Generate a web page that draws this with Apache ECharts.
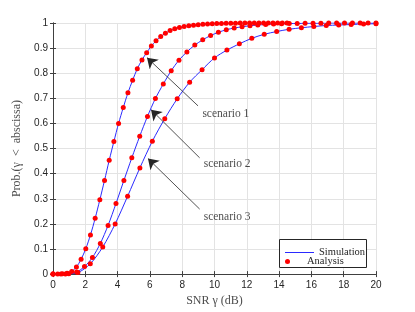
<!DOCTYPE html>
<html>
<head>
<meta charset="utf-8">
<script src="https://cdn.jsdelivr.net/npm/echarts@6/dist/echarts.min.js"></script>
<style>
html,body{margin:0;padding:0;background:#fff;}
#chart{width:415px;height:312px;}
</style>
</head>
<body>
<div id="chart"></div>
<script>
// ---------- data ----------
const xTicks = [0, 2, 4, 6, 8, 10, 12, 14, 16, 18, 20];
const yTicks = [0, 0.1, 0.2, 0.3, 0.4, 0.5, 0.6, 0.7, 0.8, 0.9, 1];

const sc1X = [0, 0.29, 0.58, 0.87, 1.16, 1.45, 1.74, 2.03, 2.32, 2.61, 2.90, 3.19, 3.48, 3.77, 4.06, 4.35, 4.64, 4.93, 5.22, 5.51, 5.80, 6.09, 6.38, 6.67, 6.96, 7.25, 7.54, 7.83, 8.12, 8.41, 8.70, 8.99, 9.28, 9.57, 9.86, 10.14, 10.43, 10.72, 11.01, 11.30, 11.59, 11.88, 12.17, 12.46, 12.75, 13.04, 13.33, 13.62, 13.91, 14.20, 14.49];
const sc1Y = [0, 0, 0.001, 0.003, 0.010, 0.028, 0.059, 0.101, 0.156, 0.222, 0.296, 0.373, 0.453, 0.528, 0.600, 0.663, 0.722, 0.772, 0.818, 0.853, 0.882, 0.908, 0.929, 0.946, 0.959, 0.970, 0.977, 0.982, 0.986, 0.989, 0.991, 0.993, 0.995, 0.996, 0.997, 0.998, 0.998, 0.999, 0.999, 0.999, 1, 1, 1, 1, 1, 1, 1, 1, 1, 1, 1];

const sc2X = [0, 0.49, 0.98, 1.46, 1.95, 2.44, 2.93, 3.41, 3.90, 4.39, 4.88, 5.37, 5.85, 6.34, 6.83, 7.32, 7.80, 8.29, 8.78, 9.27, 9.76, 10.24, 10.73, 11.22, 11.71, 12.20, 12.68, 13.17, 13.66, 14.15, 14.63, 15.12, 15.61, 16.10, 16.59, 17.07, 17.56, 18.05, 18.54, 19.02, 19.51, 20];
const sc2Y = [0, 0, 0.001, 0.008, 0.030, 0.066, 0.122, 0.194, 0.281, 0.373, 0.463, 0.549, 0.628, 0.699, 0.757, 0.810, 0.852, 0.885, 0.912, 0.933, 0.950, 0.963, 0.973, 0.980, 0.985, 0.989, 0.992, 0.994, 0.996, 0.997, 0.998, 0.998, 0.999, 0.999, 0.999, 1, 1, 1, 1, 1, 1, 1];

const sc3X = [0, 0.77, 1.54, 2.31, 3.08, 3.85, 4.62, 5.38, 6.15, 6.92, 7.69, 8.46, 9.23, 10.00, 10.77, 11.54, 12.31, 13.08, 13.85, 14.62, 15.38, 16.15, 16.92, 17.69, 18.46, 19.23, 20];
const sc3Y = [0, 0, 0.006, 0.041, 0.108, 0.200, 0.310, 0.423, 0.529, 0.619, 0.698, 0.764, 0.814, 0.861, 0.892, 0.917, 0.939, 0.955, 0.966, 0.975, 0.981, 0.986, 0.990, 0.992, 0.994, 0.996, 0.997];

const annText = ['scenario 1', 'scenario 2', 'scenario 3'];
const annTextPos = [[9.25, 0.636], [9.33, 0.439], [9.33, 0.227]];
const annArrowFrom = [[8.98, 0.670], [9.08, 0.463], [9.08, 0.259]];
const annArrowTo = [[5.82, 0.862], [6.07, 0.655], [5.88, 0.460]];
// ---------------------------------------------------

const zip = (xs, ys) => xs.map((x, i) => [x, ys[i]]);
const serif = 'Liberation Serif';
const sans = 'Liberation Sans';
const axisCol = '#404040';

const lineSeries = (xs, ys) => ({
  type: 'line', name: 'Simulation', xAxisIndex: 0, yAxisIndex: 0,
  data: zip(xs, ys), symbol: 'none', smooth: 0.3,
  lineStyle: {color: '#2a2aff', width: 1}, itemStyle: {color: '#2a2aff'},
  z: 3
});
const dotSeries = (xs, ys) => ({
  type: 'scatter', name: 'Analysis', xAxisIndex: 0, yAxisIndex: 0,
  data: zip(xs, ys), symbol: 'circle', symbolSize: 5,
  itemStyle: {color: '#ff0000', opacity: 1}, z: 4
});

const baseX = {type: 'value', min: 0, max: 20, interval: 2};
const baseY = {type: 'value', min: 0, max: 1, interval: 0.1};

const chart = echarts.init(document.getElementById('chart'), null, {renderer: 'canvas'});
chart.setOption({
  animation: false,
  backgroundColor: '#fff',
  grid: {left: 53, right: 39, top: 23, bottom: 34, containLabel: false},
  xAxis: [
    Object.assign({}, baseX, {
      position: 'bottom',
      name: 'SNR γ (dB)', nameLocation: 'middle', nameGap: 15,
      nameTextStyle: {fontFamily: serif, fontSize: 12, color: '#4d4d4d'},
      axisLine: {show: true, lineStyle: {color: axisCol, width: 1}},
      axisTick: {show: true, inside: true, length: 3, lineStyle: {color: axisCol}},
      axisLabel: {fontFamily: sans, fontSize: 10, color: '#262626', margin: 6,
        formatter: v => xTicks.includes(v) ? String(v) : ''},
      splitLine: {show: true, lineStyle: {color: '#e3e3e3', width: 1}}
    }),
    Object.assign({}, baseX, {
      position: 'top',
      axisLine: {show: true, lineStyle: {color: axisCol, width: 1}},
      axisTick: {show: true, inside: true, length: 3, lineStyle: {color: axisCol}},
      axisLabel: {show: false},
      splitLine: {show: false}
    })
  ],
  yAxis: [
    Object.assign({}, baseY, {
      position: 'left',
      name: 'Prob.(γ  <  abscissa)', nameLocation: 'middle', nameGap: 19,
      nameTextStyle: {fontFamily: serif, fontSize: 12, color: '#4d4d4d'},
      axisLine: {show: true, lineStyle: {color: axisCol, width: 1}},
      axisTick: {show: true, inside: true, length: 3, lineStyle: {color: axisCol}},
      axisLabel: {fontFamily: sans, fontSize: 10, color: '#262626', margin: 5,
        formatter: v => { const t = yTicks.find(q => Math.abs(q - v) < 1e-9); return t === undefined ? '' : String(t); }},
      splitLine: {show: true, lineStyle: {color: '#e3e3e3', width: 1}}
    }),
    Object.assign({}, baseY, {
      position: 'right',
      axisLine: {show: true, lineStyle: {color: axisCol, width: 1}},
      axisTick: {show: true, inside: true, length: 3, lineStyle: {color: axisCol}},
      axisLabel: {show: false},
      splitLine: {show: false}
    })
  ],
  legend: [
    {
      data: [{name: 'Simulation', icon: 'rect', itemStyle: {color: '#2a2aff'}}],
      orient: 'vertical', left: 285, top: 247,
      itemWidth: 29, itemHeight: 1, itemGap: 0, padding: 0, z: 20,
      textStyle: {fontFamily: serif, fontSize: 10.5, color: '#262626'},
      selectedMode: false
    },
    {
      data: [{name: 'Analysis', icon: 'circle'}], orient: 'vertical', left: 285, top: 256,
      itemWidth: 29, itemHeight: 5, itemGap: 0, padding: 0, z: 20,
      textStyle: {fontFamily: serif, fontSize: 10.5, color: '#262626'},
      selectedMode: false
    }
  ],
  graphic: [
    {type: 'rect', left: 279, top: 239, z: 2, silent: true,
      shape: {width: 87, height: 28},
      style: {fill: '#fff', stroke: '#262626', lineWidth: 1}}
  ],
  series: [
    lineSeries(sc1X, sc1Y),
    lineSeries(sc2X, sc2Y),
    lineSeries(sc3X, sc3Y),
    dotSeries(sc1X, sc1Y),
    dotSeries(sc2X, sc2Y),
    dotSeries(sc3X, sc3Y),
    {
      type: 'lines', name: 'arrows', coordinateSystem: 'cartesian2d',
      xAxisIndex: 0, yAxisIndex: 0,
      data: annArrowFrom.map((f, i) => ({coords: [f, annArrowTo[i]]})),
      symbol: ['none', 'arrow'], symbolSize: [7, 10],
      lineStyle: {color: '#262626', width: 0.8, opacity: 1},
      z: 5
    },
    {
      type: 'scatter', name: 'labels', xAxisIndex: 0, yAxisIndex: 0,
      data: annTextPos.map((p, i) => [p[0], p[1], annText[i]]),
      symbolSize: 0, silent: true,
      label: {show: true, position: 'right', distance: 0,
        formatter: p => p.value[2],
        fontFamily: serif, fontSize: 11.5, color: '#1a1a1a'},
      z: 6
    }
  ]
});
</script>
</body>
</html>
